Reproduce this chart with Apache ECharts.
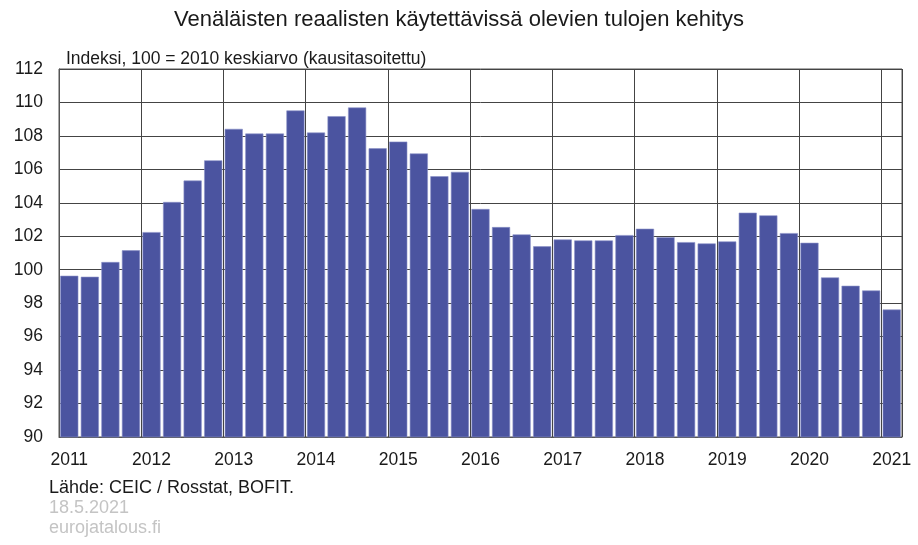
<!DOCTYPE html>
<html>
<head>
<meta charset="utf-8">
<script src="https://cdn.jsdelivr.net/npm/echarts@6/dist/echarts.min.js"></script>
<style>
html,body{margin:0;padding:0;background:#fff;}
#c{width:918px;height:545px;}
</style>
</head>
<body>
<div id="c"></div>
<script>
const years = ['2011','2012','2013','2014','2015','2016','2017','2018','2019','2020','2021'];
const quarters = ['Q1','Q2','Q3','Q4'];
const values = [
  99.64, 99.58, 100.46, 101.16,
  102.25, 104.05, 105.33, 106.54,
  108.42, 108.14, 108.14, 109.52,
  108.20, 109.18, 109.70, 107.26,
  107.66, 106.95, 105.59, 105.85,
  103.63, 102.55, 102.11, 101.40,
  101.81, 101.75, 101.75, 102.07,
  102.45, 101.95, 101.65, 101.57,
  101.69, 103.41, 103.25, 102.19,
  101.61, 99.54, 99.04, 98.76,
  97.62
];
const titleText = 'Venäläisten reaalisten käytettävissä olevien tulojen kehitys';
const subtitleText = 'Indeksi, 100 = 2010 keskiarvo (kausitasoitettu)';
const sourceText = 'Lähde: CEIC / Rosstat, BOFIT.';
const dateText = '18.5.2021';
const siteText = 'eurojatalous.fi';

const categories = [];
years.forEach(y => quarters.forEach(q => categories.push(y + ' ' + q)));
categories.length = values.length;

const font = 'Liberation Sans, Arial, sans-serif';
const chart = echarts.init(document.getElementById('c'), null, {renderer: 'canvas'});
chart.setOption({
  animation: false,
  backgroundColor: '#ffffff',
  title: [
    {text: titleText, left: 'center', top: 9, padding: 0, textStyle: {fontFamily: font, fontSize: 22, fontWeight: 'normal', color: '#1a1a1a'}},
    {text: subtitleText, left: 66, top: 50.5, padding: 0, textStyle: {fontFamily: font, fontSize: 17.5, fontWeight: 'normal', color: '#1a1a1a'}},
    {text: sourceText, left: 49, top: 479, padding: 0, textStyle: {fontFamily: font, fontSize: 18, fontWeight: 'normal', color: '#1a1a1a'}},
    {text: dateText, left: 49, top: 499.5, padding: 0, textStyle: {fontFamily: font, fontSize: 18, fontWeight: 'normal', color: '#c4c4c4'}},
    {text: siteText, left: 49, top: 519, padding: 0, textStyle: {fontFamily: font, fontSize: 18, fontWeight: 'normal', color: '#c4c4c4'}}
  ],
  grid: {left: 59, top: 69, right: 16, bottom: 108, show: true, borderColor: '#555', borderWidth: 1},
  xAxis: {
    type: 'category',
    data: categories,
    boundaryGap: true,
    axisLine: {show: true, lineStyle: {color: '#555'}},
    axisTick: {show: false},
    axisLabel: {
      interval: (i) => i % 4 === 0,
      formatter: (v) => v.split(' ')[0],
      fontFamily: font, fontSize: 17.5, color: '#1a1a1a', margin: 14
    },
    splitLine: {show: true, interval: (i) => i % 4 === 0, lineStyle: {color: '#444', width: 1}}
  },
  yAxis: {
    type: 'value',
    min: 90, max: 112, interval: 2,
    axisLine: {show: true, lineStyle: {color: '#555'}},
    axisTick: {show: false},
    axisLabel: {fontFamily: font, fontSize: 17.5, color: '#1a1a1a', margin: 16},
    splitLine: {show: true, lineStyle: {color: '#444', width: 1}}
  },
  series: [{
    type: 'bar',
    data: values,
    barCategoryGap: '12%',
    itemStyle: {color: '#4B54A0', borderColor: '#8a90c8', borderWidth: 0.6}
  }]
});
</script>
</body>
</html>
